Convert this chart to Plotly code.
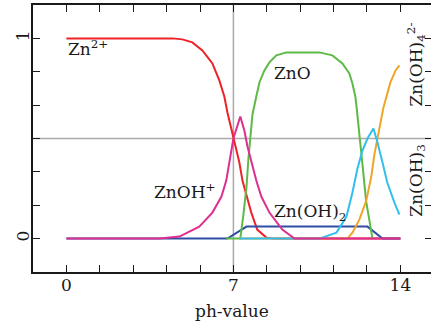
import plotly.graph_objects as go

# ---- data ----
red_ph   = [0, 4.0, 4.45, 4.86, 5.28, 5.70, 6.12, 6.41, 6.62, 6.75, 6.92, 7.0, 7.25, 7.38, 7.55, 7.75, 8.0, 8.38, 8.7, 14]
red_val  = [1, 1, 1.0, 0.995, 0.98, 0.94, 0.875, 0.79, 0.71, 0.63, 0.54, 0.5, 0.38, 0.29, 0.21, 0.13, 0.045, 0.005, 0, 0]

mag_ph   = [0, 3.9, 4.74, 5.57, 6.12, 6.5, 6.7, 6.83, 6.96, 7.0, 7.29, 7.46, 7.59, 7.75, 7.96, 8.17, 8.51, 9.05, 9.56, 14]
mag_val  = [0, 0, 0.01, 0.06, 0.13, 0.21, 0.29, 0.38, 0.46, 0.5, 0.61, 0.54, 0.46, 0.38, 0.29, 0.21, 0.13, 0.045, 0.0, 0]

grn_ph   = [6.7, 7.29, 7.42, 7.55, 7.63, 7.71, 7.8, 7.96, 8.09, 8.3, 8.51, 8.8, 9.22, 10.6, 11.15, 11.57, 11.86, 11.99, 12.11, 12.16, 12.28, 12.42, 12.56, 12.7, 12.83]
grn_val  = [0, 0, 0.12, 0.26, 0.4, 0.52, 0.62, 0.71, 0.78, 0.84, 0.88, 0.915, 0.93, 0.93, 0.915, 0.875, 0.825, 0.775, 0.71, 0.66, 0.53, 0.36, 0.19, 0.08, 0]

blu_ph   = [0, 6.75, 7.55, 12.62, 13.25, 14]
blu_val  = [0, 0, 0.06, 0.06, 0, 0]

cya_ph   = [7.25, 10.6, 11.32, 11.74, 11.99, 12.2, 12.41, 12.62, 12.87, 13.04, 13.25, 13.45, 13.75, 13.96]
cya_val  = [0, 0, 0.03, 0.11, 0.23, 0.35, 0.44, 0.5, 0.55, 0.48, 0.38, 0.28, 0.18, 0.12]

org_ph   = [7.25, 11.78, 11.99, 12.28, 12.57, 12.78, 12.91, 13.04, 13.28, 13.58, 13.8, 13.96]
org_val  = [0, 0, 0.03, 0.095, 0.19, 0.31, 0.42, 0.5, 0.65, 0.78, 0.84, 0.865]

x_ticks  = [0, 1.4, 2.8, 4.2, 5.6, 7, 8.4, 9.8, 11.2, 12.6, 14]
x_labels = ["0", "", "", "", "", "7", "", "", "", "", "14"]
y_ticks  = [0, 1/6, 2/6, 3/6, 4/6, 5/6, 1]
y_labels = ["0", "", "", "", "", "", "1"]

FONT = "DejaVu Serif"
fig = go.Figure()

def add(xs, ys, color):
    fig.add_trace(go.Scatter(x=xs, y=ys, mode="lines", showlegend=False,
                             line=dict(color=color, width=2),
                             hoverinfo="skip"))

add(red_ph, red_val, "#ee2229")
add(blu_ph, blu_val, "#2e4ea3")
add(grn_ph, grn_val, "#5dba47")
add(org_ph, org_val, "#efa52a")
add(cya_ph, cya_val, "#33bfee")
add(mag_ph, mag_val, "#dc2f8f")
fig.add_trace(go.Scatter(x=[], y=[], yaxis="y2", showlegend=False))

fig.add_shape(type="line", xref="x", yref="paper", x0=7, x1=7, y0=0, y1=1,
              line=dict(color="#aaaaaa", width=1.5), layer="below")
fig.add_shape(type="line", xref="paper", yref="y", x0=0, x1=1, y0=0.5, y1=0.5,
              line=dict(color="#aaaaaa", width=1.5), layer="below")

tf = dict(family=FONT, size=17, color="#1a1a1a")
ann = [
    dict(text="Zn<sup>2+</sup>", x=0, y=0.95, xanchor="left", yanchor="middle"),
    dict(text="ZnO", x=8.63, y=0.826, xanchor="left", yanchor="middle"),
    dict(text="ZnOH<sup>+</sup>", x=3.6, y=0.24, xanchor="left", yanchor="middle"),
    dict(text="Zn(OH)<sub>2</sub>", x=8.6, y=0.13, xanchor="left", yanchor="middle"),
    dict(text="Zn(OH)<sub>4</sub><sup>2-</sup>", x=14.66, y=0.87, textangle=-90, xanchor="center", yanchor="middle"),
    dict(text="Zn(OH)<sub>3</sub>", x=14.70, y=0.29, textangle=-90, xanchor="center", yanchor="middle"),
    dict(text="ph-value", xref="paper", yref="paper", x=0.5, y=-0.1, xanchor="center", yanchor="top"),
]
for a in ann:
    a.setdefault("xref", "x")
    a.setdefault("yref", "y")
    a.update(showarrow=False, font=tf)
fig.update_layout(annotations=ann)

fig.update_layout(
    width=431, height=324,
    margin=dict(l=33, r=0, t=5, b=52, autoexpand=False),
    paper_bgcolor="white", plot_bgcolor="white",
    font=dict(family=FONT, size=17, color="#1a1a1a"),
    xaxis=dict(range=[-1.4, 15.283], tickvals=x_ticks, ticktext=x_labels,
               ticks="inside", ticklen=7, tickwidth=1.3, tickcolor="#1a1a1a",
               showline=True, linecolor="#1a1a1a", linewidth=1.5, mirror="ticks",
               showgrid=False, zeroline=False, tickfont=tf, automargin=False,
               ticklabelstandoff=-3),
    yaxis=dict(range=[-1/6, 7/6], tickvals=y_ticks, ticktext=y_labels,
               ticks="inside", ticklen=7, tickwidth=1.3, tickcolor="#1a1a1a",
               showline=True, linecolor="#1a1a1a", linewidth=1.5,
               showgrid=False, zeroline=False, tickfont=tf, tickangle=-90,
               automargin=False, ticklabelstandoff=-5),
    yaxis2=dict(range=[-1/6, 7/6], overlaying="y", side="right", tickvals=y_ticks,
                ticks="inside", ticklen=6, tickwidth=1.3, tickcolor="#1a1a1a",
                showticklabels=False, showline=False, showgrid=False, zeroline=False,
                automargin=False),
)

fig.write_html("out.html", config={"displayModeBar": False},
               post_script="document.body.style.margin='0';document.body.style.overflow='hidden';")
